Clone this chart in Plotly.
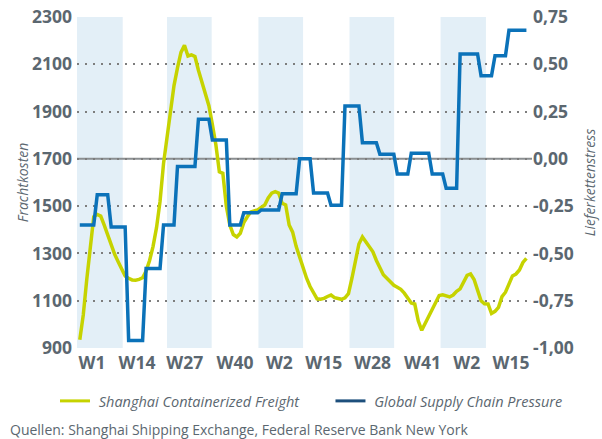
import plotly.graph_objects as go

# --- data -----------------------------------------------------------------
week_index = list(range(129))

# Shanghai Containerized Freight Index (weekly, left axis)
scfi = [935, 1040, 1190, 1340, 1455, 1465, 1458, 1420, 1378, 1335,
        1296, 1265, 1230, 1204, 1195, 1188, 1187, 1190, 1197, 1225,
        1270, 1330, 1410, 1520, 1680, 1800, 1910, 2010, 2085, 2150,
        2180, 2135, 2140, 2133, 2075, 2025, 1965, 1925, 1845, 1760,
        1645, 1639, 1500, 1420, 1380, 1370, 1385, 1430, 1455, 1475,
        1480, 1484, 1495, 1505, 1535, 1555, 1561, 1555, 1512, 1505,
        1420, 1390, 1330, 1285, 1230, 1195, 1160, 1135, 1108, 1106,
        1110, 1118, 1124, 1113, 1108, 1106, 1112, 1130, 1195, 1268,
        1340, 1370, 1350, 1325, 1307, 1270, 1238, 1210, 1195, 1180,
        1165, 1157, 1148, 1132, 1112, 1090, 1086, 1015, 975, 1005,
        1035, 1070, 1100, 1122, 1125, 1120, 1116, 1124, 1140, 1150,
        1180, 1207, 1213, 1190, 1145, 1100, 1087, 1086, 1046, 1055,
        1072, 1117, 1136, 1175, 1205, 1213, 1230, 1262, 1279]

# Global Supply Chain Pressure Index (monthly values, right axis)
gscpi_monthly = [-0.35, -0.19, -0.36, -0.96, -0.58, -0.35, -0.04, 0.21, 0.10,
                 -0.35, -0.285, -0.27, -0.185, 0.00, -0.18, -0.245, 0.28, 0.085,
                 0.025, -0.08, 0.03, -0.08, -0.155, 0.555, 0.44, 0.545, 0.68]
# number of weeks each monthly value covers
gscpi_weeks = [5, 4, 5, 5, 5, 4, 6, 4, 5, 4, 5, 6, 5, 4, 5, 4, 5, 5, 5, 4,
               6, 4, 4, 6, 4, 4, 6]

gscpi = []
for v, n in zip(gscpi_monthly, gscpi_weeks):
    gscpi.extend([v] * n)

series_names = ["Shanghai Containerized Freight", "Global Supply Chain Pressure"]

tick_labels = ["W1", "W14", "W27", "W40", "W2", "W15", "W28", "W41", "W2", "W15"]
tick_pos = [3.5, 16.4, 30.1, 44.5, 57.2, 69.9, 83.9, 98.2, 110.9, 123.6]

left_ticks = [900, 1100, 1300, 1500, 1700, 1900, 2100, 2300]
right_ticks = [-1.0, -0.75, -0.5, -0.25, 0.0, 0.25, 0.5, 0.75]
right_labels = ["-1,00", "-0,75", "-0,50", "-0,25", "0,00", "0,25", "0,50", "0,75"]

quarter_bands = [(-0.8, 12.3), (25.0, 37.8), (51.2, 64.0), (77.3, 90.1), (103.4, 116.4)]

# --- styling --------------------------------------------------------------
FONT = "Open Sans"
LABEL = "#5b6770"
YELLOW = "#c6d300"
BLUE = "#0b72b9"
NAVY = "#1d4f7c"
BAND = "#e3eff7"
NB = "\u00a0"

fig = go.Figure()
fig.add_trace(go.Scatter(x=week_index, y=scfi, mode="lines", showlegend=False,
                         line=dict(color=YELLOW, width=3.5), hoverinfo="skip"))
fig.add_trace(go.Scatter(x=week_index, y=gscpi, mode="lines", showlegend=False,
                         yaxis="y2", line=dict(color=BLUE, width=3.5), hoverinfo="skip"))
# legend entries
fig.add_trace(go.Scatter(x=[None], y=[None], mode="lines",
                         name=NB + series_names[0] + NB * 7,
                         line=dict(color=YELLOW, width=3)))
fig.add_trace(go.Scatter(x=[None], y=[None], mode="lines",
                         name=NB + series_names[1],
                         line=dict(color=NAVY, width=3)))

shapes = []
for a, b in quarter_bands:
    shapes.append(dict(type="rect", xref="x", yref="paper", x0=a, x1=b, y0=0, y1=1,
                       fillcolor=BAND, line=dict(width=0), layer="below"))
shapes.append(dict(type="line", xref="paper", yref="y", x0=0, x1=1, y0=1700, y1=1700,
                   line=dict(color="#8a8e91", width=2), layer="between"))

tickfont = dict(family=FONT, size=17.5, color=LABEL, weight="bold")

fig.update_layout(
    width=602, height=439,
    margin=dict(l=77, r=70, t=17, b=91, autoexpand=False),
    paper_bgcolor="white", plot_bgcolor="white",
    shapes=shapes,
    showlegend=True,
    legend=dict(orientation="h", xref="paper", yref="paper",
                x=-0.0484, xanchor="left", y=-0.160, yanchor="middle",
                font=dict(family=FONT, size=14.5, color=LABEL, style="italic"),
                bgcolor="rgba(0,0,0,0)", traceorder="normal"),
    xaxis=dict(range=[-0.8, 129.6], showgrid=False, zeroline=False, showline=False,
               automargin=False,
               tickmode="array", tickvals=tick_pos, ticktext=tick_labels,
               ticks="", tickfont=tickfont, ticklabelstandoff=2, fixedrange=True),
    yaxis=dict(range=[900, 2300], tickmode="array", tickvals=left_ticks, automargin=False,
               showgrid=True, gridcolor="#7d7d7d", griddash="2px,6px", gridwidth=2,
               zeroline=False, showline=False, ticks="", tickfont=tickfont,
               ticklabelstandoff=4, ticklabeloverflow="allow",
               title=dict(text="Frachtkosten", standoff=0,
                          font=dict(family=FONT, size=14, color=LABEL, style="italic"))),
    yaxis2=dict(range=[-1.0, 0.75], overlaying="y", side="right", tickmode="array",
                automargin=False,
                tickvals=right_ticks, ticktext=right_labels, showgrid=False,
                zeroline=False, showline=False, ticks="", tickfont=tickfont,
                ticklabelstandoff=0, ticklabeloverflow="allow",
                title=dict(text="Lieferkettenstress", standoff=12,
                           font=dict(family=FONT, size=14, color=LABEL, style="italic"))),
    annotations=[dict(text="Quellen: Shanghai Shipping Exchange, Federal Reserve Bank New York",
                      xref="paper", yref="paper", x=-0.1516, y=-0.2477,
                      xanchor="left", yanchor="middle", showarrow=False,
                      font=dict(family=FONT, size=14, color=LABEL))],
)

# remove the browser's default 8px page margin so the figure fills the window
fig.write_html("out.html", config={"displayModeBar": False},
               post_script="document.body.style.margin='0';")
